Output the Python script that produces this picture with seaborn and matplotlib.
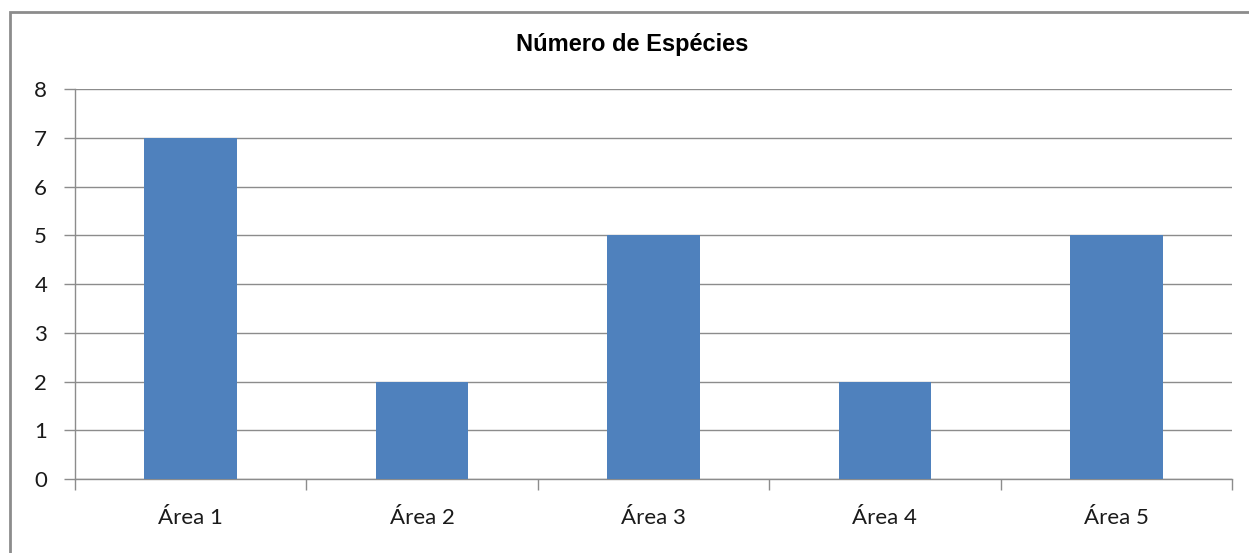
import matplotlib
matplotlib.use("Agg")
import matplotlib.pyplot as plt
import seaborn as sns
import pandas as pd

# Species count per sampled area
areas = ["Área 1", "Área 2", "Área 3", "Área 4", "Área 5"]
especies = [7, 2, 5, 2, 5]
y_ticks = [0, 1, 2, 3, 4, 5, 6, 7, 8]
titulo = "Número de Espécies"

df = pd.DataFrame({"area": areas, "especies": especies})

sns.set_theme(style="white")
plt.rcParams["font.family"] = ["Lato", "DejaVu Sans"]

fig = plt.figure(figsize=(12.49, 5.53), dpi=100)
ax = fig.add_axes([0.060, 0.1338, 0.9264, 0.7052])

sns.barplot(data=df, x="area", y="especies", color="#4F81BD", saturation=1,
            width=0.4, linewidth=0, edgecolor="none", ax=ax, zorder=3)

ax.set_ylim(0, 8)
ax.set_xlim(-0.5, len(areas) - 0.5)
ax.set_yticks(y_ticks)
ax.yaxis.grid(True, color="#8C8C8C", linewidth=1.0, zorder=0)
ax.set_axisbelow(True)

# Category separators on the x axis
ax.set_xticks([i - 0.5 for i in range(len(areas) + 1)], minor=True)
ax.tick_params(axis="x", which="major", length=0, pad=21, labelsize=16,
               labelcolor="#1a1a1a")
ax.tick_params(axis="x", which="minor", length=8, width=1, color="#8C8C8C",
               direction="out", bottom=True)
ax.tick_params(axis="y", which="major", length=8, width=1, color="#8C8C8C",
               direction="out", left=True, labelsize=16, pad=12,
               labelcolor="#1a1a1a")

for side in ["top", "right"]:
    ax.spines[side].set_visible(False)
for side in ["left", "bottom"]:
    ax.spines[side].set_color("#8C8C8C")
    ax.spines[side].set_linewidth(1.0)

ax.set_xlabel("")
ax.set_ylabel("")

fig.text(0.5065, 1 - 45 / 553, titulo, ha="center", va="center",
         fontsize=17, fontweight="bold", family=["Liberation Sans", "DejaVu Sans"],
         color="black")

# Outer chart frame
frame = plt.Rectangle((9.5 / 1249, -0.05), 1.2, 1 - 11.5 / 553 + 0.05,
                      transform=fig.transFigure, fill=False,
                      edgecolor="#8C8C8C", linewidth=2.0, zorder=10)
fig.patches.append(frame)

fig.savefig("out.png", dpi=100)
